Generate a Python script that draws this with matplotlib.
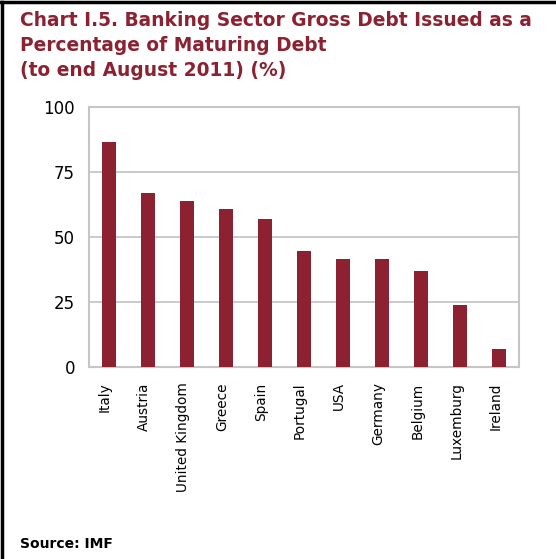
import numpy as np
import matplotlib
matplotlib.use("Agg")
import matplotlib.pyplot as plt
import matplotlib.transforms as mtransforms
from matplotlib.lines import Line2D

countries = ["Italy", "Austria", "United Kingdom", "Greece", "Spain", "Portugal",
             "USA", "Germany", "Belgium", "Luxemburg", "Ireland"]
issued_pct = [86.4, 67.1, 64.0, 60.9, 57.1, 44.7, 41.6, 41.6, 37.1, 23.9, 7.1]
yticks = [0, 25, 50, 75, 100]

bar_col = "#8B2131"
grid_col = "#C6C6C6"

W, H = 556, 559
fig = plt.figure(figsize=(W / 100, H / 100), dpi=100)

# plot area in pixel terms
left, right, top, bottom = 89, 519, 107, 367
ax = fig.add_axes([left / W, 1 - bottom / H, (right - left) / W, (bottom - top) / H])

x = np.arange(len(countries))
ax.bar(x, issued_pct, width=0.36, color=bar_col, zorder=3)
ax.set_xlim(-0.5, len(countries) - 0.5)
ax.set_ylim(0, 100)
ax.set_yticks(yticks)
ax.set_yticklabels([str(v) for v in yticks], fontsize=12)
ax.set_xticks(x)
ax.set_xticklabels(countries, rotation=90, fontsize=9.8)
ax.tick_params(axis="both", length=0)
ax.tick_params(axis="y", pad=10)
ax.tick_params(axis="x", pad=11)
# nudge category labels slightly left of the bar centres
shift = mtransforms.ScaledTranslation(-4 / 100, 0, fig.dpi_scale_trans)
for lab in ax.get_xticklabels():
    lab.set_transform(lab.get_transform() + shift)
ax.yaxis.grid(True, color=grid_col, linewidth=1.3, zorder=0)
for s in ax.spines.values():
    s.set_color(grid_col)
    s.set_linewidth(1.5)

# title block
title = "Chart I.5. Banking Sector Gross Debt Issued as a\nPercentage of Maturing Debt\n(to end August 2011) (%)"
fig.text(20 / W, 1 - 11 / H, title, ha="left", va="top", fontsize=13.4,
         fontweight="bold", color=bar_col, linespacing=1.4)
fig.text(20 / W, 1 - 544 / H, "Source: IMF", ha="left", va="center",
         fontsize=10, fontweight="bold", color="black")

# frame on the left and top edges
fig.add_artist(Line2D([1.5 / W, 1.5 / W], [0, 1 - 1.5 / H], transform=fig.transFigure,
                      color="black", linewidth=2.5))
fig.add_artist(Line2D([0, 554 / W], [1 - 1.5 / H, 1 - 1.5 / H], transform=fig.transFigure,
                      color="black", linewidth=2.5))

fig.savefig("out.png", dpi=100)
